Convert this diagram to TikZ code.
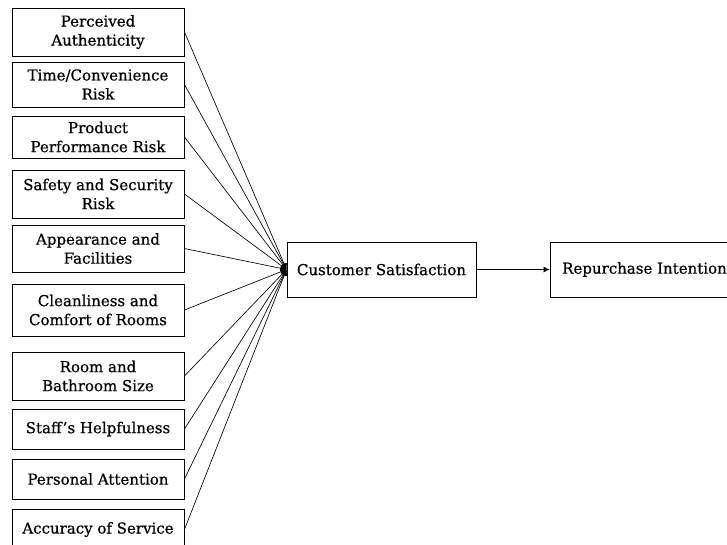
\documentclass[tikz,border=0pt]{standalone}
\usepackage{fontspec}
\setmainfont{DejaVu Serif}
\newfontfamily\boxfont{DejaVu Serif}[FakeBold=0.6]
\usetikzlibrary{arrows.meta}

\begin{document}
\begin{tikzpicture}[x=1pt,y=-1pt,
  factor/.style={draw, line width=0.9pt, minimum width=172, inner sep=1pt, align=center, font=\boxfont\fontsize{15}{19}\selectfont},
  outcome/.style={draw, line width=0.9pt, minimum width=189, minimum height=55, inner sep=1pt, font=\boxfont\fontsize{15}{19}\selectfont},
  link/.style={line width=0.65pt, -{Latex[length=6pt,width=6pt]}}]
\useasboundingbox (0,0) rectangle (727,544);
\node[factor, minimum height=48] (pa) at (98,32) {Perceived\\Authenticity};
\node[factor, minimum height=45] (tc) at (98,84.5) {Time/Convenience\\Risk};
\node[factor, minimum height=42] (pp) at (98,137) {Product\\Performance Risk};
\node[factor, minimum height=48] (ss) at (98,194) {Safety and Security\\Risk};
\node[factor, minimum height=47] (af) at (98,248.5) {Appearance and\\Facilities};
\node[factor, minimum height=52] (cc) at (98,310) {Cleanliness and\\Comfort of Rooms};
\node[factor, minimum height=48] (rb) at (98,376) {Room and\\Bathroom Size};
\node[factor, minimum height=40] (sh) at (98,429) {Staff’s Helpfulness};
\node[factor, minimum height=40] (pt) at (98,479) {Personal Attention};
\node[factor, minimum height=41] (as) at (98,529.5) {Accuracy of Service};
\node[outcome] (cs) at (381.5,269.5) {Customer Satisfaction};
\node[outcome] (ri) at (644.5,269.5) {Repurchase Intention};
\draw[link] (pa.east) -- (cs.west);
\draw[link] (tc.east) -- (cs.west);
\draw[link] (pp.east) -- (cs.west);
\draw[link] (ss.east) -- (cs.west);
\draw[link] (af.east) -- (cs.west);
\draw[link] (cc.east) -- (cs.west);
\draw[link] (rb.east) -- (cs.west);
\draw[link] (sh.east) -- (cs.west);
\draw[link] (pt.east) -- (cs.west);
\draw[link] (as.east) -- (cs.west);
\draw[link] (cs.east) -- (ri.west);
\end{tikzpicture}
\end{document}
